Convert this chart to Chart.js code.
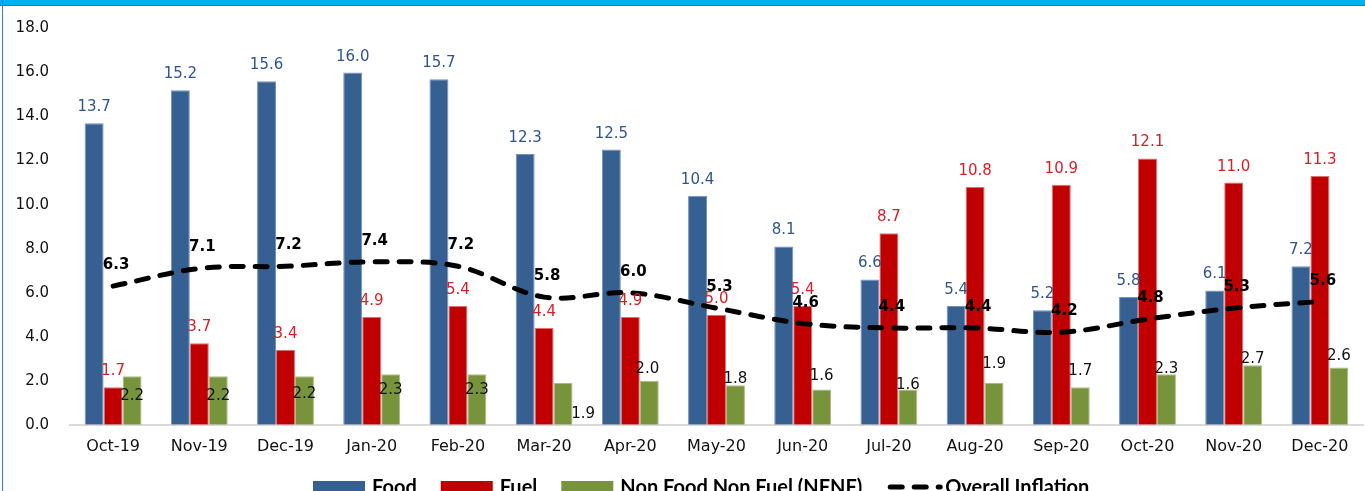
<!DOCTYPE html>
<html>
<head>
<meta charset="utf-8">
<script src="https://cdn.jsdelivr.net/npm/chart.js@4.4.0/dist/chart.umd.min.js"></script>
<style>
    html, body { margin: 0; padding: 0; background: #fff; overflow: hidden; }
    #marco { position: relative; width: 1365px; height: 491px; }
    #bordeSup { position: absolute; left: 0; top: 0; width: 1365px; height: 5px; background: #00B0F0; border-bottom: 1px solid #0B86C8; }
    #bordeIzq { position: absolute; left: 2px; top: 0; width: 1px; height: 491px; background: #2F7FD0; }
    canvas { position: absolute; left: 0; top: 0; }
</style>
</head>
<body>
<div id="marco">
    <canvas id="myChart" width="1365" height="491"></canvas>
    <div id="bordeSup"></div>
    <div id="bordeIzq"></div>
</div>
<script>
const meses = ['Oct-19', 'Nov-19', 'Dec-19', 'Jan-20', 'Feb-20', 'Mar-20', 'Apr-20', 'May-20',
               'Jun-20', 'Jul-20', 'Aug-20', 'Sep-20', 'Oct-20', 'Nov-20', 'Dec-20'];
const food = [13.7, 15.2, 15.6, 16.0, 15.7, 12.3, 12.5, 10.4, 8.1, 6.6, 5.4, 5.2, 5.8, 6.1, 7.2];
const fuel = [1.7, 3.7, 3.4, 4.9, 5.4, 4.4, 4.9, 5.0, 5.4, 8.7, 10.8, 10.9, 12.1, 11.0, 11.3];
const nfnf = [2.2, 2.2, 2.2, 2.3, 2.3, 1.9, 2.0, 1.8, 1.6, 1.6, 1.9, 1.7, 2.3, 2.7, 2.6];
const overall = [6.3, 7.1, 7.2, 7.4, 7.2, 5.8, 6.0, 5.3, 4.6, 4.4, 4.4, 4.2, 4.8, 5.3, 5.6];
const yTicks = [0, 2, 4, 6, 8, 10, 12, 14, 16, 18];

// desplazamiento de las etiquetas NFNF (en el original fueron movidas a mano)
const nfnfDy = [24, 24, 22, 20, 20, 35, -8, -2, -10, -1, -15, -12, -1, -2, -8];
const nfnfDx = [0, 0, 0, 0, 0, 20, -2, 0, 0, 0, 0, 0, 0, 0, 0];

const canvas = document.getElementById('myChart');

const etiquetas = {
    id: 'etiquetas',
    afterDatasetsDraw(chart) {
        const ctx = chart.ctx;
        ctx.save();
        ctx.textAlign = 'center';
        ctx.textBaseline = 'alphabetic';
        ctx.font = '15px "DejaVu Sans"';
        const colores = ['#2E5590', '#D91F26', '#111111'];
        [0, 1, 2].forEach(i => {
            const meta = chart.getDatasetMeta(i);
            const valores = chart.data.datasets[i].data;
            ctx.fillStyle = colores[i];
            meta.data.forEach((el, j) => {
                let x = el.x, y = el.y - 12;
                if (i === 2) { x += nfnfDx[j]; y = el.y + nfnfDy[j]; }
                ctx.fillText(valores[j].toFixed(1), x, y);
            });
        });
        const metaL = chart.getDatasetMeta(3);
        ctx.font = 'bold 15px "DejaVu Sans"';
        ctx.fillStyle = '#000';
        metaL.data.forEach((el, j) => {
            ctx.fillText(overall[j].toFixed(1), el.x + 3, el.y - 17);
        });
        ctx.restore();
    }
};

const leyenda = {
    id: 'leyenda',
    afterDraw(chart) {
        const ctx = chart.ctx;
        ctx.save();
        ctx.font = 'bold 20px Lato';
        ctx.textBaseline = 'alphabetic';
        ctx.fillStyle = '#000';
        let x = 313;
        const yTexto = 494, yCaja = 481;
        chart.data.datasets.forEach((ds, i) => {
            if (ds.type === 'line') {
                ctx.strokeStyle = '#000';
                ctx.lineWidth = 5;
                ctx.lineCap = 'round';
                ctx.setLineDash(ds.borderDash);
                ctx.beginPath();
                ctx.moveTo(x + 4, 487);
                ctx.lineTo(x + 54, 487);
                ctx.stroke();
                ctx.setLineDash([]);
            } else {
                ctx.fillStyle = ds.backgroundColor;
                ctx.fillRect(x, yCaja, 52, 12);
            }
            x += 59;
            ctx.fillStyle = '#000';
            ctx.fillText(ds.label, x, yTexto);
            x += ctx.measureText(ds.label).width + 24;
        });
        ctx.restore();
    }
};

const ctx = canvas.getContext('2d');
new Chart(ctx, {
    data: {
        labels: meses,
        datasets: [
            { type: 'bar', label: 'Food', data: food, backgroundColor: '#376092', borderColor: '#7393BD', borderWidth: 1, order: 1 },
            { type: 'bar', label: 'Fuel', data: fuel, backgroundColor: '#C00000', borderColor: '#E07070', borderWidth: 1, order: 1 },
            { type: 'bar', label: 'Non Food Non Fuel (NFNF)', data: nfnf, backgroundColor: '#77933C', borderColor: '#A9BE84', borderWidth: 1, order: 1 },
            {
                type: 'line', label: 'Overall Inflation', data: overall,
                borderColor: '#000', borderWidth: 5, borderDash: [12, 12], borderCapStyle: 'round',
                pointRadius: 0, tension: 0.35, fill: false, order: 0
            }
        ]
    },
    options: {
        responsive: false,
        animation: false,
        categoryPercentage: 0.66,
        barPercentage: 1.0,
        layout: { padding: { left: 16, right: 2, top: 8, bottom: 23 } },
        plugins: { legend: { display: false }, tooltip: { enabled: false } },
        scales: {
            x: {
                grid: { display: false, drawTicks: false },
                border: { display: true, color: '#D9D9D9', width: 2 },
                ticks: { color: '#111', font: { family: 'DejaVu Sans', size: 16 }, padding: 12, maxRotation: 0, autoSkip: false }
            },
            y: {
                min: 0, max: 18,
                afterBuildTicks: axis => { axis.ticks = yTicks.map(v => ({ value: v })); },
                afterFit: axis => { axis.width = 54; },
                grid: { display: false, drawTicks: false },
                border: { display: false },
                ticks: {
                    color: '#111', padding: 21,
                    font: { family: 'DejaVu Sans', size: 15, lineHeight: 1 },
                    callback: v => v.toFixed(1)
                }
            }
        }
    },
    plugins: [etiquetas, leyenda]
});
</script>
</body>
</html>
